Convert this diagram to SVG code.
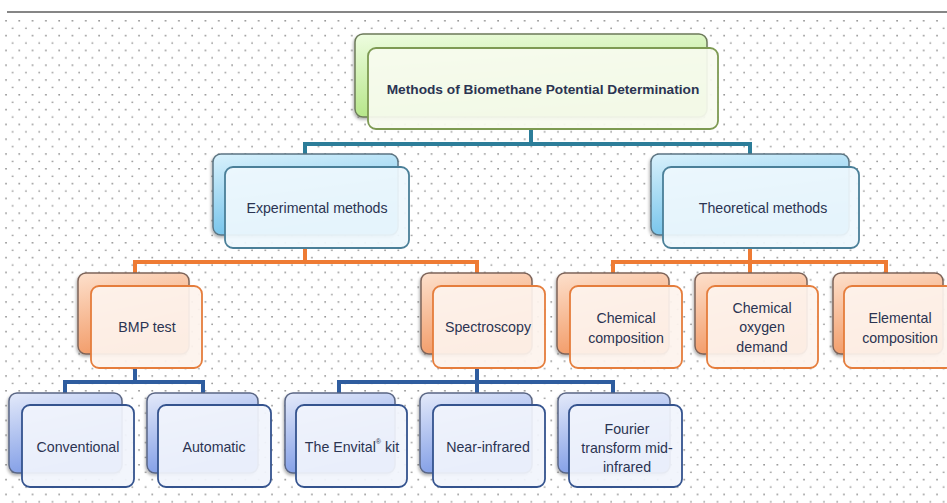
<svg xmlns="http://www.w3.org/2000/svg" width="947" height="503" viewBox="0 0 947 503">
<defs>
  <pattern id="dots" x="4" y="20" width="13.3" height="14.8" patternUnits="userSpaceOnUse">
    <circle cx="2" cy="0.8" r="0.85" fill="#8a8a8a"/>
    <circle cx="8.65" cy="8.2" r="0.85" fill="#8a8a8a"/>
  </pattern>
  <linearGradient id="gGreen" x1="0" y1="0" x2="0.3" y2="1">
    <stop offset="0" stop-color="#eefde0"/>
    <stop offset="1" stop-color="#b2e483"/>
  </linearGradient>
  <linearGradient id="gTeal" x1="0" y1="0" x2="0.3" y2="1">
    <stop offset="0" stop-color="#d8f1fc"/>
    <stop offset="1" stop-color="#72c2ea"/>
  </linearGradient>
  <linearGradient id="gOrange" x1="0" y1="0" x2="0.3" y2="1">
    <stop offset="0" stop-color="#fde0cc"/>
    <stop offset="1" stop-color="#f29a66"/>
  </linearGradient>
  <linearGradient id="gBlue" x1="0" y1="0" x2="0.3" y2="1">
    <stop offset="0" stop-color="#e4eafa"/>
    <stop offset="1" stop-color="#7f9ce6"/>
  </linearGradient>
  <filter id="sh" x="-10%" y="-10%" width="120%" height="130%">
    <feDropShadow dx="-1" dy="2" stdDeviation="1.5" flood-color="#000" flood-opacity="0.3"/>
  </filter>
</defs>
<style>
  .t{font-family:"Liberation Sans","Open Sans",sans-serif;font-size:14.2px;fill:#2b3452;text-anchor:middle;dominant-baseline:central}
  .title{font-weight:bold;font-size:13.7px}
  .back{stroke-width:1.5;filter:url(#sh)}
  .front{stroke-width:1.8;fill-opacity:0.93}
  .gb{fill:url(#gGreen);stroke:#6c7a5a}
  .gf{fill:#f7fbef;stroke:#7d9a52}
  .tb{fill:url(#gTeal);stroke:#5b7482}
  .tf{fill:#eef8fd;stroke:#4a7f98}
  .ob{fill:url(#gOrange);stroke:#7d6459}
  .of{fill:#fdf3ed;stroke:#e57d3c}
  .bb{fill:url(#gBlue);stroke:#5a6684}
  .bf{fill:#f1f4fc;stroke:#34538e}
  .c{fill:none;stroke-width:4;stroke-linejoin:miter}
  .ct{stroke:#2c7d99}
  .co{stroke:#ee7b34}
  .cb{stroke:#2f5d9f}
</style>
<rect x="0" y="0" width="947" height="503" fill="#ffffff"/>
<rect x="4" y="17" width="943" height="486" fill="url(#dots)"/>
<line x1="7" y1="12" x2="947" y2="12" stroke="#5e5e5e" stroke-width="1.6"/>

<g id="connectors">
  <path class="c ct" d="M531,129 V144 M305,167 V144 H750 V167"/>
  <path class="c co" d="M305,248 V262 M135,286 V262 H477 V286"/>
  <path class="c co" d="M750,248 V262 M613,274 V262 H886 V274 M750,262 V286"/>
  <path class="c cb" d="M135,368 V382 M65,393 V382 H203 V393"/>
  <path class="c cb" d="M477,368 V382 M339,393 V382 H613 V393 M477,382 V405"/>
</g>

<g id="n-root">
  <rect class="back gb" x="355" y="34" width="352" height="83" rx="8"/>
  <rect class="front gf" x="368" y="48" width="350" height="81" rx="8"/>
  <text class="t title" x="543" y="89">Methods of Biomethane Potential Determination</text>
</g>

<g id="n-exp">
  <rect class="back tb" x="213" y="154" width="185" height="81" rx="8"/>
  <rect class="front tf" x="225" y="167" width="184" height="81" rx="8"/>
  <text class="t" x="317" y="208">Experimental methods</text>
</g>
<g id="n-theo">
  <rect class="back tb" x="651" y="154" width="198" height="81" rx="8"/>
  <rect class="front tf" x="663" y="167" width="196" height="81" rx="8"/>
  <text class="t" x="763" y="208">Theoretical methods</text>
</g>

<g id="n-bmp">
  <rect class="back ob" x="78" y="273" width="111" height="81" rx="8"/>
  <rect class="front of" x="91" y="286" width="111" height="82" rx="8"/>
  <text class="t" x="147" y="327">BMP test</text>
</g>
<g id="n-spec">
  <rect class="back ob" x="421" y="273" width="111" height="81" rx="8"/>
  <rect class="front of" x="433" y="286" width="112" height="82" rx="8"/>
  <text class="t" x="488" y="327">Spectroscopy</text>
</g>
<g id="n-chem">
  <rect class="back ob" x="557" y="273" width="112" height="81" rx="8"/>
  <rect class="front of" x="570" y="286" width="112" height="82" rx="8"/>
  <text class="t" x="626" y="318">Chemical</text>
  <text class="t" x="626" y="338">composition</text>
</g>
<g id="n-cod">
  <rect class="back ob" x="695" y="273" width="112" height="81" rx="8"/>
  <rect class="front of" x="707" y="286" width="111" height="82" rx="8"/>
  <text class="t" x="762" y="308">Chemical</text>
  <text class="t" x="762" y="327">oxygen</text>
  <text class="t" x="762" y="347">demand</text>
</g>
<g id="n-elem">
  <rect class="back ob" x="833" y="273" width="110" height="81" rx="8"/>
  <rect class="front of" x="844" y="286" width="110" height="82" rx="8"/>
  <text class="t" x="900" y="318">Elemental</text>
  <text class="t" x="900" y="338">composition</text>
</g>

<g id="n-conv">
  <rect class="back bb" x="9" y="393" width="113" height="80" rx="8"/>
  <rect class="front bf" x="22" y="405" width="112" height="82" rx="8"/>
  <text class="t" x="78" y="447">Conventional</text>
</g>
<g id="n-auto">
  <rect class="back bb" x="147" y="393" width="111" height="80" rx="8"/>
  <rect class="front bf" x="158" y="405" width="113" height="82" rx="8"/>
  <text class="t" x="214" y="447">Automatic</text>
</g>
<g id="n-envital">
  <rect class="back bb" x="285" y="393" width="110" height="80" rx="8"/>
  <rect class="front bf" x="296" y="405" width="111" height="82" rx="8"/>
  <text class="t" x="352" y="447">The Envital<tspan font-size="7" dy="-6">®</tspan><tspan dy="6"> kit</tspan></text>
</g>
<g id="n-nir">
  <rect class="back bb" x="420" y="393" width="112" height="80" rx="8"/>
  <rect class="front bf" x="433" y="405" width="112" height="82" rx="8"/>
  <text class="t" x="488" y="447">Near-infrared</text>
</g>
<g id="n-ftir">
  <rect class="back bb" x="558" y="393" width="112" height="80" rx="8"/>
  <rect class="front bf" x="569" y="405" width="113" height="82" rx="8"/>
  <text class="t" x="627" y="429">Fourier</text>
  <text class="t" x="627" y="448">transform mid-</text>
  <text class="t" x="627" y="467">infrared</text>
</g>
</svg>
